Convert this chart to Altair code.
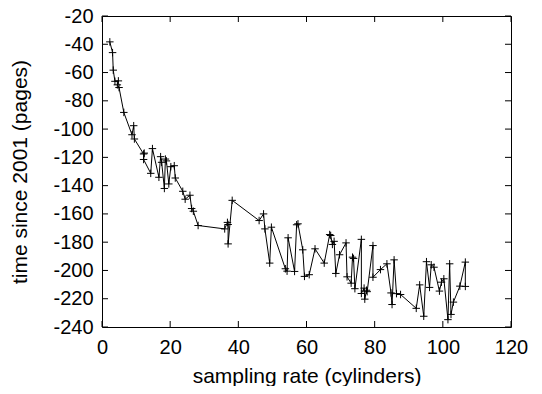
import altair as alt
import pandas as pd

# sampling rate (cylinders) vs time since 2001 (pages), in plotted order
xs = [2.3, 3.1, 3.3, 3.8, 4.8, 4.5, 5.0, 6.4, 8.8, 9.3, 9.5,
      12.2, 12.4, 12.2, 14.3, 14.8, 16.7, 17.2, 17.5, 18.3, 18.6, 18.9,
      19.6, 20.2, 21.2, 21.5, 23.7, 24.4, 25.8, 26.3, 26.8, 28.2,
      36.0, 36.8, 37.0, 37.0, 38.2, 46.1, 47.4, 47.8, 49.2, 49.7,
      53.8, 54.3, 54.6, 56.5, 57.1, 57.5, 58.9, 59.4, 60.8, 62.5, 65.2,
      66.8, 67.1, 67.6, 68.1, 68.6, 69.7, 71.6, 71.9, 73.1, 73.5, 73.8,
      74.2, 76.1, 76.1, 76.9, 77.1, 77.6, 77.8, 79.5, 79.5, 81.7, 83.6,
      84.8, 85.1, 85.7, 86.4, 87.6, 92.2, 93.2, 94.4, 95.2, 96.1, 96.6,
      97.4, 99.0, 99.6, 100.3, 101.5, 102.0, 102.4, 103.1, 105.0, 106.6, 106.6]
ys = [-38.3, -45.9, -58.3, -66.2, -65.9, -68.7, -70.6, -88.2, -104.0, -97.6, -107.0,
      -117.6, -117.0, -121.5, -131.3, -113.8, -134.1, -119.5, -123.5, -142.0, -121.2, -122.5,
      -138.8, -126.6, -125.9, -134.6, -144.0, -149.6, -146.8, -156.2, -158.1, -168.2,
      -170.6, -166.0, -167.5, -181.2, -150.4, -164.7, -160.0, -170.6, -194.8, -169.4,
      -198.8, -200.5, -176.9, -200.7, -167.7, -167.0, -185.4, -204.2, -203.0, -184.7, -194.8,
      -174.6, -175.3, -181.6, -179.4, -202.1, -188.9, -180.5, -204.5, -209.0, -190.6, -191.5,
      -212.9, -178.0, -216.3, -212.5, -220.3, -214.0, -215.0, -182.4, -204.8, -199.4, -195.3,
      -215.9, -224.1, -192.5, -216.4, -217.0, -226.8, -210.2, -232.4, -193.8, -212.0, -196.0,
      -197.7, -214.6, -208.3, -205.9, -234.8, -195.3, -231.1, -222.4, -211.1, -194.1, -211.3]

x_ticks = [0, 20, 40, 60, 80, 100, 120]
y_ticks = [-240, -220, -200, -180, -160, -140, -120, -100, -80, -60, -40, -20]

W, H = 409, 311
TICK = 6

df = pd.DataFrame({"x": xs, "y": ys, "i": list(range(len(xs)))})
xt = pd.DataFrame({"x": x_ticks})
yt = pd.DataFrame({"y": y_ticks})

xscale = alt.Scale(domain=[0, 120], nice=False, zero=False)
yscale = alt.Scale(domain=[-240, -20], nice=False, zero=False)

xaxis = alt.Axis(values=x_ticks, tickSize=0, domain=False, grid=False,
                 labelPadding=10, titlePadding=8, labelFlush=False,
                 labelOverlap=False, labelExpr="datum.value + ''")
yaxis = alt.Axis(values=y_ticks, tickSize=0, domain=False, grid=False,
                 labelPadding=9, titlePadding=22, labelFlush=False,
                 labelOverlap=False, labelExpr="datum.value + ''")
XT = "sampling rate (cylinders)"
YT = "time since 2001 (pages)"
xenc = alt.X("x:Q", scale=xscale, title=XT, axis=xaxis)
yenc = alt.Y("y:Q", scale=yscale, title=YT, axis=yaxis)

base = alt.Chart(df)
line = base.mark_line(color="black", strokeWidth=1).encode(x=xenc, y=yenc, order="i:Q")
pts = base.mark_point(shape="M-1,0L1,0M0,-1L0,1", size=56, filled=False,
                      color="black", strokeWidth=1, opacity=1).encode(x=xenc, y=yenc)

tick_style = dict(color="black", strokeWidth=1)
xb = alt.Chart(xt).mark_rule(**tick_style).encode(
    x=xenc, y=alt.value(H), y2=alt.value(H - TICK))
xtp = alt.Chart(xt).mark_rule(**tick_style).encode(
    x=xenc, y=alt.value(0), y2=alt.value(TICK))
yl = alt.Chart(yt).mark_rule(**tick_style).encode(
    y=yenc, x=alt.value(0), x2=alt.value(TICK))
yr = alt.Chart(yt).mark_rule(**tick_style).encode(
    y=yenc, x=alt.value(W), x2=alt.value(W - TICK))

chart = alt.layer(line, pts, xb, xtp, yl, yr).properties(
    width=W, height=H,
    autosize=alt.AutoSizeParams(type="none"),
    padding={"left": 94, "top": 8, "right": 23, "bottom": 59},
).configure_view(
    stroke="black", strokeWidth=1
).configure_axis(
    labelFont="Liberation Sans", titleFont="Liberation Sans",
    labelFontSize=20, titleFontSize=21, labelColor="black", titleColor="black",
    titleFontWeight="normal", labelOverlap=False,
)

chart.save("out.html", embed_options={"renderer": "svg", "actions": False})
